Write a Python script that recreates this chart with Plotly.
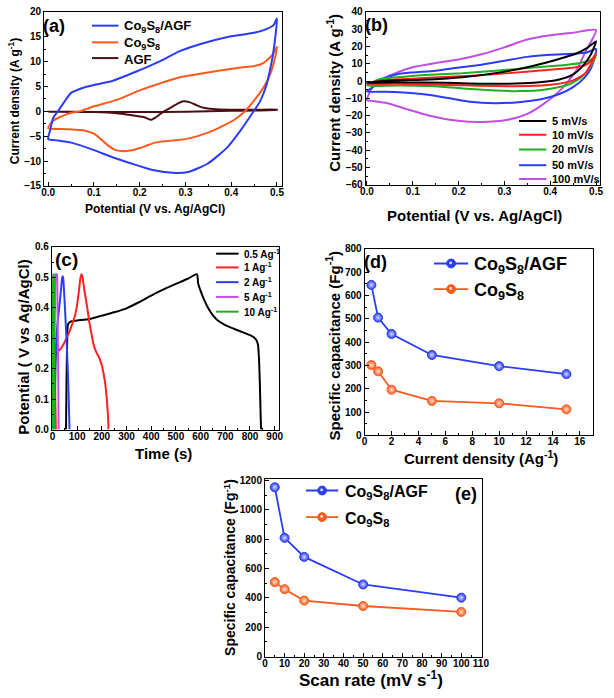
import plotly.graph_objects as go

W, H = 614, 698
FONT = "Liberation Sans, Arial, sans-serif"

# ---------------- data ----------------
# (a) CV at 50 mV/s
a_cs_agf_v = [0.0, 0.005, 0.011, 0.021, 0.036, 0.05, 0.075, 0.1, 0.14, 0.19, 0.24, 0.29, 0.335, 0.39, 0.45, 0.478, 0.493, 0.5,
              0.497, 0.491, 0.484, 0.477, 0.463, 0.449, 0.42, 0.392, 0.349, 0.306, 0.278, 0.228, 0.178, 0.142, 0.1, 0.05, 0.014, 0.0]
a_cs_agf_i = [-5.6, -3.5, -1.3, 0.0, 2.0, 3.7, 4.7, 5.3, 6.1, 7.9, 9.9, 12.2, 13.6, 14.9, 15.8, 16.6, 17.4, 18.7,
              15.5, 11.3, 8.0, 5.3, 2.0, 0.0, -3.9, -7.2, -10.5, -12.2, -12.4, -11.8, -10.4, -9.3, -7.8, -6.3, -5.8, -5.6]
a_cs_v = [0.0, 0.004, 0.012, 0.025, 0.05, 0.07, 0.1, 0.15, 0.2, 0.25, 0.29, 0.335, 0.39, 0.43, 0.455, 0.47, 0.48, 0.49, 0.5,
          0.495, 0.488, 0.478, 0.465, 0.45, 0.43, 0.41, 0.385, 0.36, 0.33, 0.3, 0.27, 0.245, 0.23, 0.215, 0.2, 0.18, 0.16,
          0.145, 0.13, 0.115, 0.1, 0.08, 0.04, 0.0]
a_cs_i = [-3.4, -2.6, -1.8, -1.2, -0.3, 0.0, 1.0, 2.3, 4.2, 5.8, 6.9, 7.6, 8.4, 8.9, 9.2, 9.7, 10.4, 11.4, 13.0,
          10.5, 8.2, 6.0, 4.0, 2.2, 0.0, -1.5, -2.8, -3.9, -4.9, -5.6, -5.9, -6.1, -6.4, -6.9, -7.4, -7.9, -8.0,
          -7.7, -6.8, -5.6, -4.5, -3.9, -3.6, -3.4]
a_agf_v = [0.0, 0.05, 0.1, 0.13, 0.16, 0.19, 0.21, 0.225, 0.235, 0.25, 0.265, 0.28, 0.295, 0.31, 0.325, 0.34, 0.36, 0.4,
           0.45, 0.5, 0.5, 0.4, 0.3, 0.2, 0.1, 0.0]
a_agf_i = [-0.1, -0.1, -0.15, -0.25, -0.5, -0.9, -1.2, -1.7, -1.2, -0.2, 0.6, 1.4, 2.0, 1.8, 1.2, 0.7, 0.45, 0.3,
           0.3, 0.35, 0.3, 0.1, -0.1, -0.15, -0.15, -0.1]

# (b) CV of Co9S8/AGF at different scan rates
b_5_v = [0.0, 0.038, 0.137, 0.208, 0.28, 0.35, 0.406, 0.456, 0.48, 0.5, 0.488, 0.47, 0.449, 0.42, 0.364, 0.28, 0.17, 0.066, 0.0]
b_5_i = [-1.0, 0.1, 0.9, 2.2, 4.6, 8.0, 11.8, 15.8, 19.0, 23.0, 15.0, 8.4, 3.7, 0.9, -1.0, -1.6, -1.0, -0.7, -1.0]
b_10_v = [0.0, 0.03, 0.1, 0.17, 0.24, 0.31, 0.385, 0.456, 0.477, 0.49, 0.5, 0.49, 0.477, 0.449, 0.406, 0.35, 0.28, 0.21, 0.137, 0.066, 0.0]
b_10_i = [-1.6, 0.3, 1.4, 2.4, 3.3, 4.6, 6.2, 8.0, 9.3, 12.0, 16.0, 10.3, 4.6, 0.3, -2.0, -2.9, -2.9, -2.4, -2.0, -1.6, -1.6]
b_20_v = [0.0, 0.025, 0.066, 0.137, 0.208, 0.28, 0.35, 0.42, 0.463, 0.49, 0.5, 0.49, 0.47, 0.44, 0.39, 0.33, 0.28, 0.21, 0.14, 0.066, 0.0]
b_20_i = [-2.6, 0.9, 2.2, 3.7, 4.6, 6.0, 7.5, 9.0, 10.3, 12.5, 15.0, 9.3, 2.7, -2.0, -4.8, -5.8, -5.4, -4.3, -2.9, -2.5, -2.6]
b_50_v = [0.0, 0.016, 0.038, 0.066, 0.1, 0.15, 0.2, 0.25, 0.3, 0.35, 0.4, 0.45, 0.48, 0.5,
          0.49, 0.475, 0.45, 0.42, 0.38, 0.33, 0.28, 0.22, 0.16, 0.12, 0.08, 0.04, 0.0]
b_50_i = [-6.0, -3.0, 1.5, 4.0, 5.0, 6.0, 7.8, 9.5, 11.8, 14.0, 15.2, 15.8, 16.5, 18.5,
          8.0, 2.0, -3.5, -7.5, -10.5, -12.2, -12.8, -11.8, -9.0, -7.5, -6.6, -6.1, -6.0]
b_100_v = [0.0, 0.005, 0.016, 0.038, 0.066, 0.1, 0.15, 0.2, 0.25, 0.3, 0.35, 0.4, 0.45, 0.5,
           0.477, 0.456, 0.42, 0.385, 0.35, 0.307, 0.25, 0.194, 0.137, 0.087, 0.045, 0.009, 0.0]
b_100_i = [-11.0, -7.0, -2.0, 1.8, 5.0, 8.0, 10.5, 12.5, 15.5, 19.5, 24.0, 26.5, 28.0, 29.5,
           17.0, 5.6, -5.8, -13.3, -19.0, -22.4, -23.7, -22.8, -20.0, -16.2, -12.8, -11.4, -11.0]

# (c) GCD curves
c_05_t = [55, 57, 60, 63, 75, 100, 150, 200, 250, 300, 350, 400, 450, 500, 550, 585,
          590, 600, 615, 630, 650, 670, 700, 735, 770, 800, 815, 825, 832, 836, 840, 843, 845]
c_05_v = [0.0, 0.15, 0.3, 0.345, 0.355, 0.358, 0.363, 0.374, 0.385, 0.398, 0.418, 0.44, 0.46, 0.478, 0.496, 0.51,
          0.48, 0.455, 0.425, 0.40, 0.375, 0.358, 0.343, 0.331, 0.32, 0.31, 0.303, 0.295, 0.28, 0.24, 0.15, 0.05, 0.0]
c_1_t = [14, 16, 30, 45, 60, 75, 90, 100, 108, 114, 118, 122, 128, 135, 141, 150, 157, 165, 172, 180, 190, 200,
         208, 214, 219, 223, 226, 227]
c_1_v = [0.0, 0.25, 0.262, 0.28, 0.305, 0.335, 0.37, 0.41, 0.46, 0.5, 0.51, 0.5, 0.465, 0.43, 0.4, 0.35, 0.32,
         0.285, 0.265, 0.25, 0.235, 0.21, 0.18, 0.15, 0.11, 0.07, 0.03, 0.0]
c_2_t = [8, 9, 12, 16, 22, 30, 36, 40, 43, 46, 50, 55, 59, 63, 66, 68, 69]
c_2_v = [0.0, 0.05, 0.2, 0.3, 0.36, 0.42, 0.47, 0.5, 0.503, 0.47, 0.41, 0.33, 0.26, 0.18, 0.1, 0.04, 0.0]
c_5_t = [3, 6, 10, 14, 18, 20, 22, 24, 25]
c_5_v = [0.0, 0.25, 0.42, 0.51, 0.51, 0.45, 0.3, 0.15, 0.0]
c_10_t = [1, 2, 4, 6, 8, 9]
c_10_v = [0.0, 0.3, 0.51, 0.51, 0.25, 0.0]

# (d) specific capacitance vs current density
d_current = [0.5, 1, 2, 5, 10, 15]
d_cs_agf = [645, 505, 435, 345, 297, 263]
d_cs = [302, 275, 196, 148, 138, 112]

# (e) specific capacitance vs scan rate
e_rate = [5, 10, 20, 50, 100]
e_cs_agf = [1155, 810, 680, 492, 402]
e_cs = [508, 460, 382, 345, 305]

BLUE = "#2a3cf5"
ORANGE = "#fa5a1e"
AGF = "#4b0f12"
RED = "#ff2020"
GREEN = "#1fb01f"
VIOLET = "#c04fe6"
BLACK = "#000000"


def px(x):
    return x / W


def py(y):
    return 1 - y / H


fig = go.Figure()


def line_trace(x, y, color, xa, ya, smooth=True, width=2):
    fig.add_trace(go.Scatter(x=x, y=y, mode="lines", xaxis=xa, yaxis=ya, showlegend=False,
                             line=dict(color=color, width=width,
                                       shape="spline" if smooth else "linear", smoothing=0.6)))


# (a)
line_trace(a_agf_v, a_agf_i, AGF, "x", "y")
line_trace(a_cs_v, a_cs_i, ORANGE, "x", "y")
line_trace(a_cs_agf_v, a_cs_agf_i, BLUE, "x", "y")
# (b)
for xv, yv, col in [(b_100_v, b_100_i, VIOLET), (b_50_v, b_50_i, BLUE), (b_20_v, b_20_i, GREEN),
                    (b_10_v, b_10_i, RED), (b_5_v, b_5_i, BLACK)]:
    line_trace(xv, yv, col, "x2", "y2")
# (c)
for xv, yv, col in [(c_05_t, c_05_v, BLACK), (c_1_t, c_1_v, RED), (c_2_t, c_2_v, BLUE),
                    (c_5_t, c_5_v, VIOLET), (c_10_t, c_10_v, GREEN)]:
    line_trace(xv, yv, col, "x3", "y3", smooth=True)


def marker_trace(x, y, color, light, xa, ya):
    fig.add_trace(go.Scatter(x=x, y=y, mode="lines+markers", xaxis=xa, yaxis=ya, showlegend=False,
                             line=dict(color=color, width=1.8),
                             marker=dict(size=9, color=color, symbol="circle",
                                         line=dict(color=color, width=1),
                                         gradient=dict(type="radial", color=light))))


marker_trace(d_current, d_cs_agf, BLUE, "#d8dcff", "x4", "y4")
marker_trace(d_current, d_cs, ORANGE, "#ffe0d0", "x4", "y4")
marker_trace(e_rate, e_cs_agf, BLUE, "#d8dcff", "x5", "y5")
marker_trace(e_rate, e_cs, ORANGE, "#ffe0d0", "x5", "y5")


def axis(domain, rng, dtick, minor_dtick, anchor, fmt=None, tsize=10, standoff=0):
    d = dict(domain=domain, range=rng, dtick=dtick, tick0=0, anchor=anchor,
             showline=True, linecolor="black", linewidth=1, mirror=True,
             ticks="inside", ticklen=4, tickwidth=1, tickcolor="black",
             showgrid=False, zeroline=False, ticklabelstandoff=standoff,
             tickfont=dict(family=FONT, size=tsize, color="black", weight="bold"),
             minor=dict(ticks="inside", ticklen=2, tickwidth=1, tickcolor="black",
                        dtick=minor_dtick, showgrid=False))
    if fmt:
        d["tickformat"] = fmt
    return d


XS = -3
fig.update_layout(
    width=W, height=H, margin=dict(l=0, r=0, t=0, b=0),
    paper_bgcolor="white", plot_bgcolor="white", showlegend=False,
    xaxis=axis([px(39), px(282)], [-0.009, 0.51], 0.1, 0.05, "y", ".1f", standoff=XS),
    yaxis=axis([py(183), py(6)], [-15, 20], 5, 2.5, "x"),
    xaxis2=axis([px(368), px(608)], [-0.003, 0.509], 0.1, 0.05, "y2", ".1f", standoff=XS),
    yaxis2=axis([py(182), py(6)], [-60, 40], 10, 5, "x2"),
    xaxis3=axis([px(47), px(279)], [-2, 916], 100, 50, "y3", standoff=XS),
    yaxis3=axis([py(431), py(245)], [0, 0.6], 0.1, 0.05, "x3", ".1f"),
    xaxis4=axis([px(367), px(601)], [0, 17], 2, 1, "y4", standoff=XS),
    yaxis4=axis([py(437), py(247)], [0, 800], 100, 50, "x4"),
    xaxis5=axis([px(265), px(487)], [0, 110.5], 10, 5, "y5", standoff=XS),
    yaxis5=axis([py(662), py(481)], [0, 1213], 200, 100, "x5"),
)

annotations = []
shapes = []


def text(x, y, s, size, angle=0, xanchor="center"):
    annotations.append(dict(x=px(x), y=py(y), xref="paper", yref="paper", text=s, showarrow=False,
                            textangle=angle, xanchor=xanchor, yanchor="middle",
                            font=dict(family=FONT, size=size, color="black", weight="bold")))


# axis titles
text(152, 207, "Potential (V vs. Ag/AgCl)", 12)
text(9, 97, "Current density (A g<sup>-1</sup>)", 12, -90)
text(479, 213, "Potential (V vs. Ag/AgCl)", 15)
text(335, 88, "Current density (A g<sup>-1</sup>)", 15, -90)
text(161, 455, "Time (s)", 15)
text(17, 347, "Potential ( V vs Ag/AgCl)", 15, -90)
text(486, 459, "Current density (Ag<sup>-1</sup>)", 15)
text(334, 346, "Specific capacitance (Fg<sup>-1</sup>)", 15, -90)
text(374, 685, "Scan rate (mV s<sup>-1</sup>)", 17)
text(229, 571, "Specific capacitance (Fg<sup>-1</sup>)", 14, -90)

# panel labels
text(49, 20, "(a)", 18)
text(379, 19, "(b)", 18)
text(62, 258, "(c)", 19)
text(378, 260, "(d)", 18)
text(471, 497, "(e)", 18)


def leg_line(x0, x1, y, color, width=2):
    shapes.append(dict(type="line", xref="paper", yref="paper", x0=px(x0), x1=px(x1), y0=py(y), y1=py(y),
                       line=dict(color=color, width=width)))


def leg_dot(x, y, color, light, r=4.5):
    shapes.append(dict(type="circle", xref="paper", yref="paper", x0=px(x - r), x1=px(x + r),
                       y0=py(y + r), y1=py(y - r), fillcolor=color, line=dict(color=color, width=1)))
    shapes.append(dict(type="circle", xref="paper", yref="paper", x0=px(x - 2), x1=px(x + 1),
                       y0=py(y + 1), y1=py(y - 2), fillcolor=light, line=dict(width=0)))


CS_AGF = "Co<sub>9</sub>S<sub>8</sub>/AGF"
CS = "Co<sub>9</sub>S<sub>8</sub>"

# legend (a)
for yy, col, lab in [(20, BLUE, CS_AGF), (37, ORANGE, CS), (53, AGF, "AGF")]:
    leg_line(88, 115, yy, col)
    text(119, yy + 1, lab, 13, xanchor="left")

# legend (b)
for yy, col, lab in [(117, BLACK, "5 mV/s"), (131, RED, "10 mV/s"), (146, GREEN, "20 mV/s"),
                     (162, BLUE, "50 mV/s"), (176, VIOLET, "100 mV/s")]:
    leg_line(525, 553, yy, col)
    text(557, yy, lab, 11, xanchor="left")

# legend (c)
for yy, col, lab in [(252, BLACK, "0.5 Ag<sup>-1</sup>"), (266, RED, "1 Ag<sup>-1</sup>"),
                     (281, BLUE, "2 Ag<sup>-1</sup>"), (296, VIOLET, "5 Ag<sup>-1</sup>"),
                     (311, GREEN, "10 Ag<sup>-1</sup>")]:
    leg_line(215, 238, yy, col)
    text(241, yy, lab, 10, xanchor="left")

# legend (d)
for yy, col, light, lab in [(262, BLUE, "#d8dcff", CS_AGF), (288, ORANGE, "#ffe0d0", CS)]:
    leg_line(438, 473, yy, col, 1.8)
    leg_dot(455.5, yy, col, light)
    text(477, yy + 2, lab, 18, xanchor="left")

# legend (e)
for yy, col, light, lab in [(493, BLUE, "#d8dcff", CS_AGF), (520, ORANGE, "#ffe0d0", CS)]:
    leg_line(307, 340, yy, col, 1.8)
    leg_dot(323.5, yy, col, light)
    text(345, yy + 2, lab, 16, xanchor="left")

fig.update_layout(annotations=annotations, shapes=shapes)
fig.write_html("out.html", config={"displayModeBar": False},
               post_script="document.body.style.margin='0';document.body.style.overflow='hidden';")
